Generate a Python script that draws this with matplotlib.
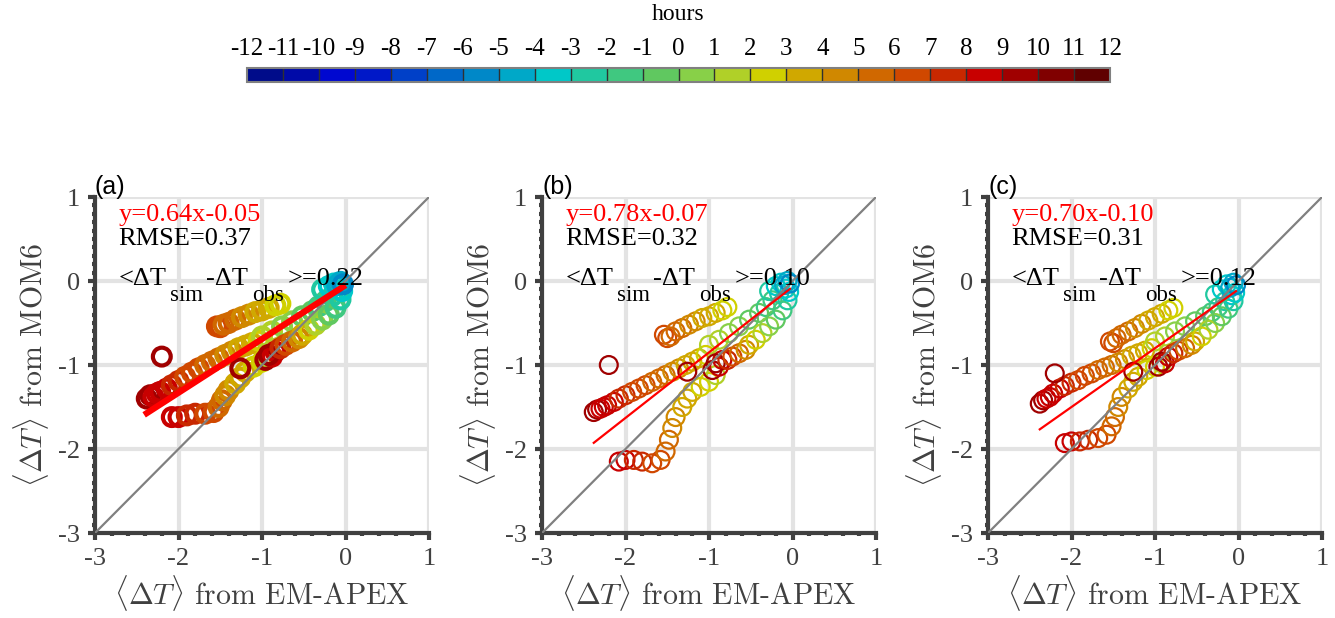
import numpy as np
import matplotlib
matplotlib.use('Agg')
import matplotlib.pyplot as plt
from matplotlib.colors import ListedColormap, BoundaryNorm
from matplotlib.ticker import MultipleLocator
import matplotlib.colorbar as mcb

plt.rcParams['font.family'] = ['Liberation Serif', 'DejaVu Serif']
plt.rcParams['axes.unicode_minus'] = False

# ---- data ----
# <dT> from EM-APEX (shared by all panels) and hour of each profile
obs_dT = [
	# upper-left track
	-2.38, -2.34, -2.30, -2.26, -2.22, -2.14, -2.08, -2.00, -1.92, -1.84,
	-1.76, -1.68, -1.60, -1.52, -1.44, -1.36, -1.28, -1.20, -1.12, -1.04,
	-1.00, -0.88, -0.76, -0.64, -0.52, -0.40, -0.32, -0.24, -0.16, -0.08,
	# upper orange track
	-1.54, -1.50, -1.46, -1.40, -1.32, -1.24, -1.16, -1.08, -1.00, -0.92, -0.84, -0.78,
	# bottom track
	-2.08, -2.00, -1.90, -1.80, -1.68, -1.58, -1.52, -1.48, -1.44, -1.40,
	-1.32, -1.26, -1.20, -1.10, -1.00, -0.92,
	# red cluster near -1 and lower band
	-0.96, -0.88, -0.84, -0.92, -0.78, -0.72, -0.64, -0.56, -0.52, -0.44,
	-0.36, -0.28, -0.20, -0.12, -0.06, -0.04,
	# single points
	-2.20, -1.26,
	# cluster near zero
	-0.28, -0.20, -0.14, -0.10, -0.06, -0.03,
]
hours = [
	9, 9, 8, 8, 8, 8, 7, 7, 6, 6,
	6, 5, 5, 5, 4, 4, 3, 3, 3, 2,
	1, 1, 0, 0, -1, -1, -2, -2, -3, -4,
	6, 6, 5, 5, 5, 4, 4, 3, 3, 3, 2, 2,
	8, 8, 7, 7, 6, 6, 5, 5, 4, 4,
	3, 3, 3, 2, 2, 1,
	9, 8, 8, 9, 7, 6, 5, 4, 3, 2,
	1, 0, -1, -2, -3, -4,
	9, 9,
	-3, -4, -4, -5, -5, -6,
]
# <dT> from MOM6, one list per panel
mom6_a = [
	-1.40, -1.36, -1.38, -1.34, -1.32, -1.28, -1.24, -1.19, -1.14, -1.09,
	-1.04, -1.00, -0.96, -0.92, -0.88, -0.84, -0.80, -0.77, -0.74, -0.71,
	-0.66, -0.60, -0.54, -0.48, -0.42, -0.36, -0.30, -0.24, -0.18, -0.11,
	-0.54, -0.55, -0.52, -0.50, -0.46, -0.43, -0.40, -0.37, -0.35, -0.32, -0.29, -0.27,
	-1.62, -1.62, -1.60, -1.58, -1.58, -1.56, -1.50, -1.42, -1.36, -1.30,
	-1.22, -1.15, -1.08, -1.02, -0.96, -0.90,
	-0.94, -0.90, -0.84, -0.88, -0.80, -0.76, -0.72, -0.68, -0.64, -0.58,
	-0.52, -0.46, -0.40, -0.32, -0.22, -0.12,
	-0.90, -1.04,
	-0.10, -0.06, -0.03, -0.05, -0.01, -0.04,
]
mom6_b = [
	-1.56, -1.53, -1.52, -1.50, -1.48, -1.44, -1.40, -1.36, -1.32, -1.28,
	-1.24, -1.20, -1.16, -1.12, -1.08, -1.04, -1.00, -0.96, -0.92, -0.88,
	-0.76, -0.70, -0.62, -0.54, -0.46, -0.38, -0.31, -0.23, -0.15, -0.09,
	-0.64, -0.68, -0.66, -0.60, -0.56, -0.52, -0.48, -0.44, -0.42, -0.38, -0.35, -0.31,
	-2.15, -2.13, -2.13, -2.15, -2.17, -2.13, -2.03, -1.89, -1.75, -1.62,
	-1.50, -1.40, -1.32, -1.26, -1.20, -1.12,
	-1.06, -1.02, -0.94, -0.98, -0.94, -0.90, -0.86, -0.82, -0.76, -0.70,
	-0.62, -0.54, -0.46, -0.35, -0.23, -0.13,
	-1.00, -1.08,
	-0.12, -0.06, -0.02, -0.05, 0.00, -0.03,
]
mom6_c = [
	-1.46, -1.42, -1.40, -1.38, -1.34, -1.28, -1.25, -1.21, -1.18, -1.13,
	-1.10, -1.06, -1.03, -1.00, -0.97, -0.93, -0.89, -0.86, -0.83, -0.80,
	-0.72, -0.66, -0.60, -0.54, -0.48, -0.42, -0.37, -0.31, -0.24, -0.17,
	-0.72, -0.74, -0.68, -0.64, -0.60, -0.56, -0.51, -0.47, -0.43, -0.39, -0.35, -0.32,
	-1.93, -1.91, -1.91, -1.89, -1.87, -1.83, -1.73, -1.62, -1.50, -1.38,
	-1.28, -1.20, -1.14, -1.06, -1.02, -0.98,
	-1.02, -0.98, -0.90, -0.96, -0.86, -0.83, -0.80, -0.76, -0.72, -0.66,
	-0.58, -0.50, -0.42, -0.33, -0.24, -0.14,
	-1.10, -1.08,
	-0.16, -0.10, -0.04, -0.08, -0.02, -0.05,
]
panel_labels = ['(a)', '(b)', '(c)']
fit_slope = [0.64, 0.78, 0.70]
fit_icpt = [-0.05, -0.07, -0.10]
rmse = [0.37, 0.32, 0.31]
bias = [0.22, 0.10, 0.12]
hour_ticks = list(range(-12, 13))

# 24 discrete colours of the colour bar
bar_colors = ['#000c8a', '#000aa8', '#0008d0', '#0018c8', '#0040c8', '#0068c8',
	'#0088c8', '#00a8c8', '#00c8c8', '#20c8a0', '#40c880', '#60c860',
	'#88d048', '#b0d028', '#d0d000', '#d0a800', '#d08800', '#d06800',
	'#d04800', '#c82800', '#c80000', '#a00000', '#800000', '#600000']
cmap = ListedColormap(bar_colors)
norm = BoundaryNorm(hour_ticks, cmap.N)

axc = '#404040'


def bias_text(ax, x0, y0, val):
	# <dT_sim-dT_obs>=val with big, low subscripts (chained text pieces)
	prev = ax.text(x0, y0, '<ΔT', fontsize=19, va='center', ha='left', zorder=5)
	parts = [('sim', -11), ('-ΔT', 11), ('obs', -11), ('>=%.2f' % val, 11)]
	for s, dy in parts:
		fs = 16.5 if dy < 0 else 19
		prev = ax.annotate(s, xy=(1, 0), xycoords=prev, xytext=(2.5, dy),
			textcoords='offset points', fontsize=fs, va='bottom', ha='left', zorder=5)


fig = plt.figure(figsize=(13.35, 6.18), dpi=100)

lefts = [95, 542, 988]
sims = [mom6_a, mom6_b, mom6_c]
ring_lw = [3.0, 1.6, 1.6]
fit_lw = [4.5, 1.6, 1.6]
x = np.array(obs_dT)
for i in range(3):
	ax = fig.add_axes([lefts[i]/1335, 1-533/618, 334/1335, 336/618])
	ax.set_xlim(-3, 1)
	ax.set_ylim(-3, 1)
	ax.set_axisbelow(True)
	ax.grid(True, color='#e3e3e3', lw=3)
	for s in ['top', 'right']:
		ax.spines[s].set_visible(False)
	for s in ['left', 'bottom']:
		ax.spines[s].set_color(axc)
		ax.spines[s].set_linewidth(3)
	ax.set_xticks(range(-3, 2))
	ax.set_yticks(range(-3, 2))
	ax.xaxis.set_minor_locator(MultipleLocator(0.2))
	ax.yaxis.set_minor_locator(MultipleLocator(0.1))
	ax.tick_params(which='major', direction='out', length=5, width=3, color=axc,
		labelcolor=axc, labelsize=19, pad=6)
	ax.tick_params(which='minor', direction='out', length=2.5, width=3, color=axc)

	ax.scatter(x, sims[i], s=165, facecolors='none', edgecolors=cmap(norm(hours)),
		linewidths=ring_lw[i], zorder=2)
	ax.plot([-3, 1], [-3, 1], color='#808080', lw=1.6, zorder=3)
	xf = np.array([x.min(), x.max()])
	ax.plot(xf, fit_slope[i]*xf + fit_icpt[i], color='#ff0000', lw=fit_lw[i], zorder=4)

	ax.text(-2.72, 0.78, 'y=%.2fx%.2f' % (fit_slope[i], fit_icpt[i]), color='#ff0000',
		fontsize=19, va='center', ha='left', zorder=5)
	ax.text(-2.72, 0.50, 'RMSE=%.2f' % rmse[i], color='k', fontsize=19,
		va='center', ha='left', zorder=5)
	bias_text(ax, -2.72, 0.02, bias[i])
	ax.text(0.0, 0.995, panel_labels[i], transform=ax.transAxes, fontsize=18,
		family='Liberation Sans', va='bottom', ha='left')

	ax.set_xlabel(r'$\langle\Delta T\rangle$ from EM-APEX', family='cmr10',
		math_fontfamily='cm', fontsize=21.5, color=axc, labelpad=2)
	ax.set_ylabel(r'$\langle\Delta T\rangle$ from MOM6', family='cmr10',
		math_fontfamily='cm', fontsize=21.5, color=axc, labelpad=5)

cax = fig.add_axes([247/1335, 1-82/618, 863/1335, 14/618])
cb = mcb.ColorbarBase(cax, cmap=cmap, norm=norm, orientation='horizontal',
	ticks=hour_ticks, drawedges=True, ticklocation='top')
cb.dividers.set_color('#303030')
cb.dividers.set_linewidth(1)
cb.outline.set_edgecolor('#808080')
cb.outline.set_linewidth(1.5)
cax.tick_params(length=0, labelsize=18, pad=6)
fig.text(678/1335, 1-15/618, 'hours', ha='center', va='center', fontsize=17)

fig.savefig('out.png', dpi=100)
